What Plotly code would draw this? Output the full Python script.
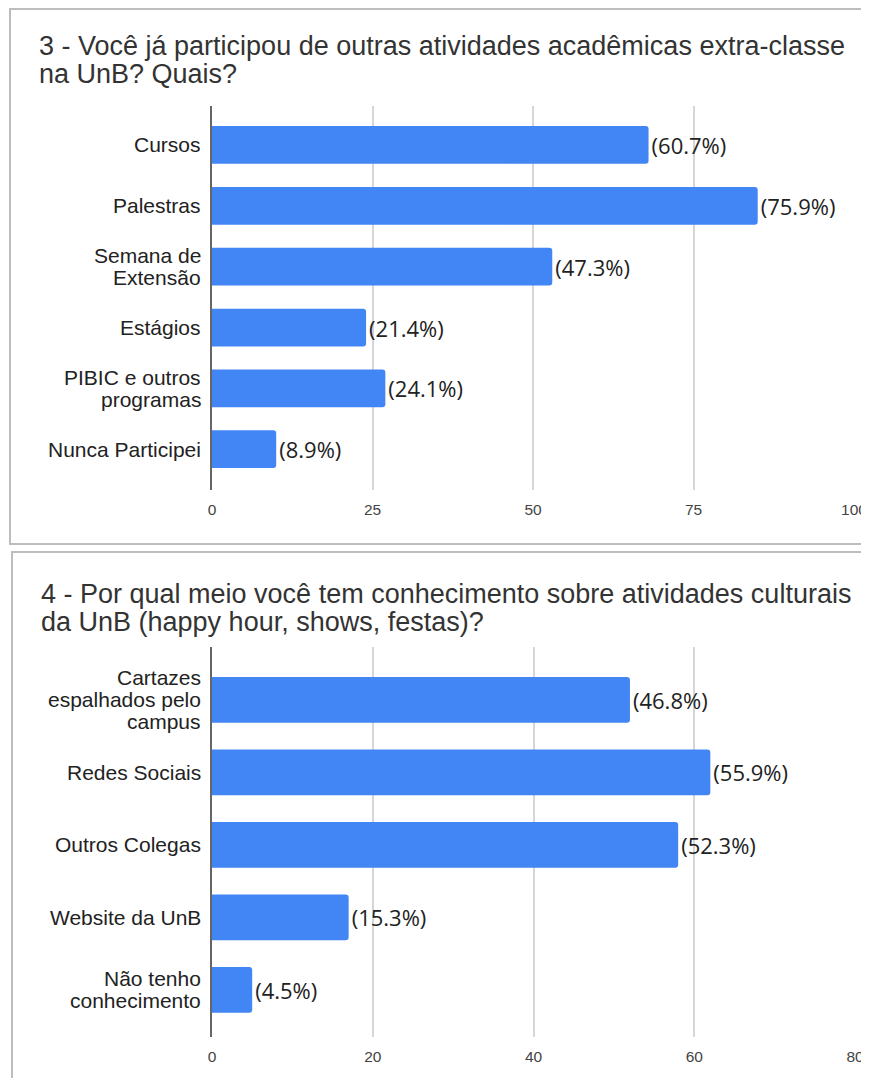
import plotly.graph_objects as go

# ---------------- data ----------------
title1_lines = ["3 - Você já participou de outras atividades acadêmicas extra-classe",
                "na UnB? Quais?"]
cats1 = ["Cursos", "Palestras", "Semana de<br>Extensão", "Estágios",
         "PIBIC e outros<br>programas", "Nunca Participei"]
counts1 = [68, 85, 53, 24, 27, 10]
pct1 = ["60.7%", "75.9%", "47.3%", "21.4%", "24.1%", "8.9%"]
ticks1 = [0, 25, 50, 75, 100]

title2_lines = ["4 - Por qual meio você tem conhecimento sobre atividades culturais",
                "da UnB (happy hour, shows, festas)?"]
cats2 = ["Cartazes<br>espalhados pelo<br>campus", "Redes Sociais", "Outros Colegas",
         "Website da UnB", "Não tenho<br>conhecimento"]
counts2 = [52, 62, 58, 17, 5]
pct2 = ["46.8%", "55.9%", "52.3%", "15.3%", "4.5%"]
ticks2 = [0, 20, 40, 60, 80]

# ---------------- layout helpers ----------------
# page body has an 8px margin; figure is sized so that it fills the window
OFF = 8
W, H = 861, 1070
def px(x):
    return (x - OFF) / W
def py(y):
    return 1 - (y - OFF) / H

BLUE = "#4285f4"
LBL_FONT = dict(family="Liberation Sans, Arial", size=21, color="#222222")
VAL_FONT = dict(family="Open Sans, Liberation Sans", size=22, color="#222222")
TICK_FONT = dict(family="Liberation Sans, Arial", size=15.5, color="#444444")
TITLE_FONT = dict(family="Liberation Sans, Arial", size=27, color="#333333")
LINE_STEP = 22  # px between lines of a wrapped category label

fig = go.Figure()

fig.add_trace(go.Bar(
    y=cats1, x=counts1, orientation="h", xaxis="x", yaxis="y",
    marker=dict(color=BLUE, cornerradius=3, line=dict(width=0)),
    width=0.62, text=["(" + p + ")" for p in pct1], textposition="outside",
    textfont=VAL_FONT, cliponaxis=False, showlegend=False, hoverinfo="skip",
))
fig.add_trace(go.Bar(
    y=cats2, x=counts2, orientation="h", xaxis="x2", yaxis="y2",
    marker=dict(color=BLUE, cornerradius=3, line=dict(width=0)),
    width=0.63, text=["(" + p + ")" for p in pct2], textposition="outside",
    textfont=VAL_FONT, cliponaxis=False, showlegend=False, hoverinfo="skip",
))

xcommon = dict(showgrid=True, gridcolor="#d6d6d6", gridwidth=1.5, zeroline=False,
               showline=False, ticks="", tickfont=TICK_FONT, ticklabelstandoff=8,
               fixedrange=True, automargin=False)
ycommon = dict(showgrid=False, zeroline=False, showline=True, linecolor="#666666",
               linewidth=2, ticks="", showticklabels=False, fixedrange=True,
               automargin=False)

annotations = []
# category labels (one annotation per text line for tight line spacing)
for cats, xr, yr in ((cats1, "x", "y"), (cats2, "x2", "y2")):
    for c in cats:
        lines = c.split("<br>")
        n = len(lines)
        for j, ln in enumerate(lines):
            annotations.append(dict(
                text=ln, x=0, y=c, xref=xr, yref=yr, xanchor="right",
                yanchor="middle", xshift=-9, yshift=((n - 1) / 2 - j) * LINE_STEP,
                showarrow=False, font=LBL_FONT))

# titles
for lines, x0, ys in ((title1_lines, 37, (46, 74)), (title2_lines, 39, (594, 622))):
    for ln, yy in zip(lines, ys):
        annotations.append(dict(
            text=ln, x=px(x0), y=py(yy), xref="paper", yref="paper",
            xanchor="left", yanchor="middle", showarrow=False, font=TITLE_FONT))

fig.update_layout(
    width=W, height=H, autosize=False,
    margin=dict(l=0, r=0, t=0, b=0, autoexpand=False),
    paper_bgcolor="white", plot_bgcolor="white",
    xaxis=dict(domain=[px(212), px(854)], range=[0, 100], tickvals=ticks1,
               anchor="y", **xcommon),
    yaxis=dict(domain=[py(490), py(106)], type="category",
               categoryorder="array", categoryarray=cats1,
               range=[5.67, -0.64], anchor="x", **ycommon),
    xaxis2=dict(domain=[px(212), px(855)], range=[0, 80], tickvals=ticks2,
                anchor="y2", **xcommon),
    yaxis2=dict(domain=[py(1037), py(647)], type="category",
                categoryorder="array", categoryarray=cats2,
                range=[4.65, -0.73], anchor="x2", **ycommon),
    annotations=annotations,
    shapes=[
        dict(type="rect", xref="paper", yref="paper",
             x0=px(10), x1=px(890), y0=py(544), y1=py(9),
             line=dict(color="#bdbdbd", width=2), layer="below"),
        dict(type="rect", xref="paper", yref="paper",
             x0=px(12), x1=px(890), y0=py(1100), y1=py(552),
             line=dict(color="#bdbdbd", width=2), layer="below"),
    ],
)

fig.write_html("out.html")
